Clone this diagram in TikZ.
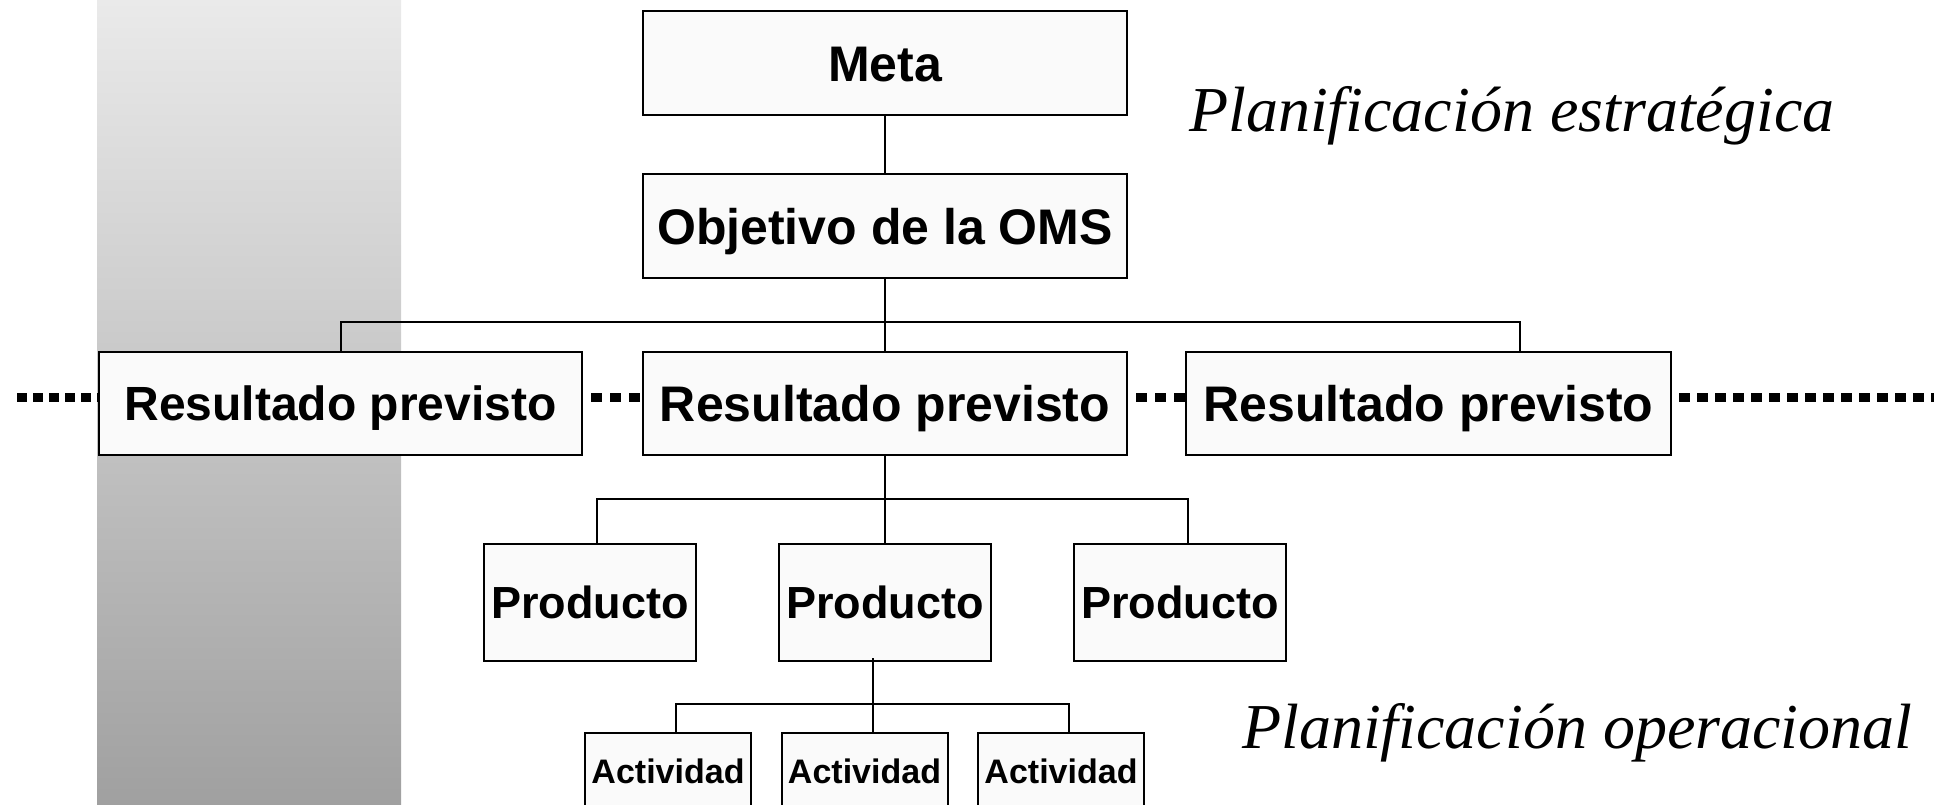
\documentclass[tikz,border=0pt]{standalone}
\usepackage{fontspec}
\setmainfont{Liberation Sans}
\newfontfamily\serifit{Liberation Serif}
\definecolor{bandtop}{RGB}{234,234,234}
\definecolor{bandbot}{RGB}{160,160,160}
\definecolor{boxfill}{RGB}{250,250,250}
\tikzset{
  box/.style={draw=black, line width=2pt, fill=boxfill, inner sep=0pt,
    font=\bfseries\fontsize{50}{60}\selectfont, text height=36pt, text depth=0pt},
  rbox/.style={box, minimum width=484pt, minimum height=103pt},
  pbox/.style={box, minimum width=212pt, minimum height=117pt,
    font=\bfseries\fontsize{45}{54}\selectfont, text height=32pt},
  abox/.style={box, minimum width=166pt, minimum height=76pt,
    font=\bfseries\fontsize{34}{41}\selectfont, text height=24.5pt},
  conn/.style={line width=2pt},
  dotline/.style={line width=9pt, dash pattern=on 11pt off 7pt, dash phase=11pt},
  plan/.style={font=\serifit\itshape\fontsize{64}{76}\selectfont, anchor=base west, inner sep=0pt}
}
\begin{document}
\begin{tikzpicture}[x=1pt,y=-1pt]
\useasboundingbox (0,0) rectangle (1942,805);
\shade[top color=bandtop, bottom color=bandbot] (97,0) rectangle (401,805);

% dotted line coordinates
\coordinate (dl) at (17,397);
\coordinate (dr) at (1934,397);

\node[rbox, minimum height=104pt] (meta) at (885,63.5) {Meta};
\node[rbox] (obj) at (885,226) {Objetivo de la OMS};
\node[rbox, minimum width=483pt, font=\bfseries\fontsize{48}{58}\selectfont, text height=34.5pt] (r1) at (340.5,403.5) {Resultado previsto};
\node[rbox] (r2) at (885,403.5) {Resultado previsto};
\node[rbox, minimum width=485pt] (r3) at (1428.5,403.5) {Resultado previsto};

\draw[dotline, dash pattern=on 10pt off 6pt, dash phase=0pt] (dl) -- (r1.west |- dl);
\draw[dotline, dash pattern=on 11pt off 8pt, dash phase=11pt] (r1.east |- dl) -- (r2.west |- dl);
\draw[dotline, dash pattern=on 11pt off 8pt, dash phase=11pt] (r2.east |- dl) -- (r3.west |- dl);
\draw[dotline] (r3.east |- dl) -- (dr);
\node[rbox, minimum width=483pt, font=\bfseries\fontsize{48}{58}\selectfont, text height=34.5pt] at (r1) {Resultado previsto};
\node[rbox] at (r2) {Resultado previsto};
\node[rbox, minimum width=485pt] at (r3) {Resultado previsto};

\node[pbox] (p1) at (590,602.5) {Producto};
\node[pbox] (p2) at (885,602.5) {Producto};
\node[pbox] (p3) at (1180,602.5) {Producto};

\node[abox] (a1) at (668,771) {Actividad};
\node[abox] (a2) at (864.5,771) {Actividad};
\node[abox] (a3) at (1061,771) {Actividad};

\coordinate (j1) at (885,322);
\coordinate (j2) at (885,499);
\coordinate (j3) at (873,704);

\draw[conn] (meta) -- (obj);
\draw[conn] (obj) -- (r2);
\draw[conn] (r1.north) |- (j1) -| ([xshift=91.5pt]r3.north);
\draw[conn] (r2) -- (p2);
\draw[conn] ([xshift=7pt]p1.north) |- (j2) -| ([xshift=8pt]p3.north);
\draw[conn] ([xshift=-12pt,yshift=4pt]p2.south) -- ([xshift=8.5pt]a2.north);
\draw[conn] ([xshift=8pt]a1.north) |- (j3) -| ([xshift=8pt]a3.north);

\node[plan] (ps) at (1189,132) {Planificación estratégica};
\node[plan] (po) at (1242,748) {Planificación operacional};
\end{tikzpicture}
\end{document}
